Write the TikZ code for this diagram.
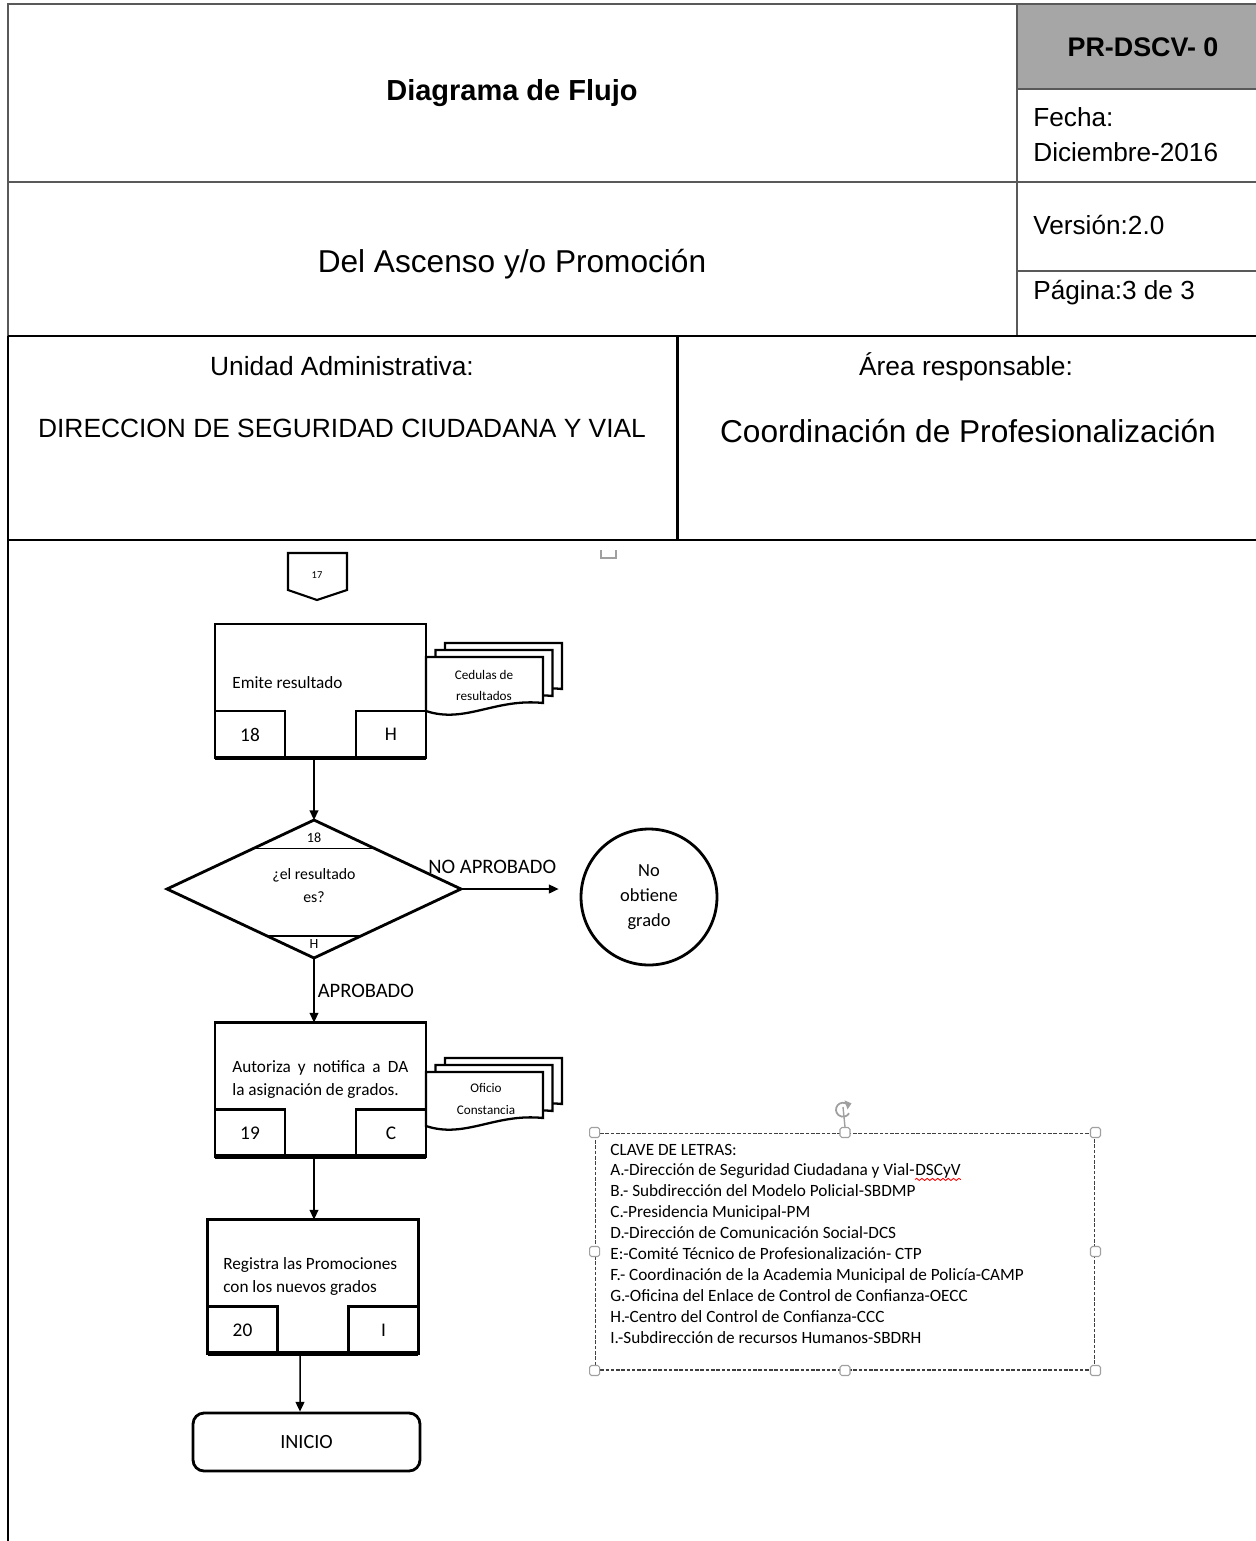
\documentclass[tikz,border=0pt]{standalone}
\usepackage{fontspec}
\setmainfont{Liberation Sans}
\newfontfamily\calfont{Carlito}
\usetikzlibrary{arrows.meta,shapes.geometric,calc,decorations.pathmorphing}
\definecolor{framegray}{HTML}{595959}
\definecolor{cellgray}{HTML}{A6A6A6}
\definecolor{handlegray}{HTML}{A0A0A0}

\begin{document}
\begin{tikzpicture}[x=0.02cm, y=-0.02cm,
            frame line/.style={draw=framegray, line width=1.1pt},
            bold line/.style={draw=black, line width=1.7pt},
            head text/.style={anchor=base, inner sep=0pt, font=\fontsize{15pt}{18pt}\selectfont},
            side text/.style={anchor=base west, inner sep=0pt, font=\fontsize{14.9pt}{18pt}\selectfont},
            proc box/.style={draw, line width=1.6pt, minimum width=4.22cm, minimum height=2.68cm, inner sep=0pt, outer sep=0pt},
            num box/.style={draw, line width=1.6pt, minimum width=1.4cm, minimum height=0.94cm, inner sep=0pt, outer sep=0pt, font=\calfont\fontsize{11pt}{13pt}\selectfont},
            box text/.style={anchor=base west, inner sep=0pt, font=\calfont\fontsize{9.8pt}{12pt}\selectfont},
            doc shape/.style={draw, line width=1.3pt, fill=white},
            doc text/.style={anchor=base, inner sep=0pt, font=\calfont\fontsize{7.5pt}{9pt}\selectfont},
            small text/.style={anchor=base, inner sep=0pt, font=\calfont\fontsize{8pt}{9pt}\selectfont},
            label text/.style={inner sep=0pt, font=\calfont\fontsize{11.7pt}{14pt}\selectfont},
            flow arrow/.style={-{Triangle[length=5.5pt,width=5pt]}, line width=0.85pt},
            handle box/.style={draw=handlegray, fill=white, line width=0.6pt, minimum size=0.2cm, inner sep=0pt, rounded corners=1pt},
            key text/.style={anchor=base west, inner sep=0pt, font=\calfont\fontsize{9.8pt}{12pt}\selectfont},
            ]
            \useasboundingbox (0,0) rectangle (1256,1541);

            \fill[cellgray] (1017,4) rectangle (1256,89);
            \draw[frame line] (1256,4) -- (8,4) -- (8,336);
            \draw[frame line] (8,182) -- (1256,182);
            \draw[frame line] (1017,4) -- (1017,336);
            \draw[frame line] (1017,89) -- (1256,89);
            \draw[frame line] (1017,271) -- (1256,271);
            \draw[bold line] (8,336) -- (1256,336);
            \draw[bold line] (677,336) -- (677,540);
            \draw[bold line] (8,540) -- (1256,540);
            \draw[bold line] (8,336) -- (8,1541);

            \node[head text, font=\bfseries\fontsize{16.5pt}{19pt}\selectfont] (title) at (512,100.5) {Diagrama de Flujo};
            \node[head text, font=\bfseries\fontsize{15.3pt}{18pt}\selectfont] (code) at (1143,56.7) {PR-DSCV- 0};
            \node[side text] (fecha) at (1033,126.4) {Fecha:};
            \node[side text] (fechaval) at (1033,161.4) {Diciembre-2016};
            \node[side text] (version) at (1033,234.4) {Versión:2.0};
            \node[side text] (pagina) at (1033,299.4) {Página:3 de 3};
            \node[head text, font=\fontsize{18pt}{21pt}\selectfont] (proc) at (512,272.4) {Del Ascenso y/o Promoción};
            \node[head text] (unidad) at (342,375.5) {Unidad Administrativa:};
            \node[head text] (unidadval) at (342,437.5) {DIRECCION DE SEGURIDAD CIUDADANA Y VIAL};
            \node[head text] (area) at (966,375.5) {Área responsable:};
            \node[head text, font=\fontsize{18pt}{21pt}\selectfont] (areaval) at (968,442.4) {Coordinación de Profesionalización};

            \draw[handlegray, line width=0.8pt] (601,550) -- (601,558) -- (616,558) -- (616,550);

            \draw[line width=1.2pt] (288,553) -- (347,553) -- (347,590) -- (317,600) -- (288,590) -- cycle;
            \node[small text, font=\calfont\fontsize{6pt}{7pt}\selectfont] (c17) at (317,578.5) {17};

            \node[proc box] (p18) at (320.5,691) {};
            \node[num box, anchor=south west] (n18) at (p18.south west) {18};
            \node[num box, anchor=south east] (r18) at (p18.south east) {H};
            \draw[line width=2.6pt] (p18.south west) -- (p18.south east);
            \node[box text] (t18) at (232,688.6) {Emite resultado};
            \foreach \d in {2,1,0}
                \draw[doc shape, shift={(9.5*\d,-7*\d)}] (426,657) -- (543,657) -- (543,703) .. controls (495,698) and (465,724) .. (426,711) -- cycle;
            \node[doc text] (d18a) at (484,679) {Cedulas de};
            \node[doc text] (d18b) at (484,700) {resultados};

            \node[diamond, draw, line width=1.6pt, minimum width=5.88cm, minimum height=2.76cm, inner sep=0pt, outer sep=0pt] (dec) at (314,889) {};
            \draw[line width=0.9pt] ($(dec.north)!0.41!(dec.west)$) -- ($(dec.north)!0.41!(dec.east)$);
            \draw[line width=0.9pt] ($(dec.south)!0.32!(dec.west)$) -- ($(dec.south)!0.32!(dec.east)$);
            \node[small text] (dn) at (314,842.5) {18};
            \node[small text] (dh) at (314,948.5) {H};
            \node[small text, font=\calfont\fontsize{9pt}{11pt}\selectfont] (dq1) at (314,879) {¿el resultado};
            \node[small text, font=\calfont\fontsize{9pt}{11pt}\selectfont] (dq2) at (314,902) {es?};

            \node[circle, draw, line width=1.6pt, minimum size=2.72cm, inner sep=0pt, align=center, font=\calfont\fontsize{10.5pt}{14.2pt}\selectfont] (nograde) at (649,897) {No\\obtiene\\grado};

            \draw[flow arrow] (p18.south -| dec.north) -- (dec.north);
            \draw[flow arrow] (dec.east) -- node[label text, pos=0.32, anchor=base, yshift=0.31cm] (lno) {NO APROBADO} ($(dec.east -| nograde.west)+(-21,0)$);

            \node[proc box] (p19) at (320.5,1089.5) {};
            \node[num box, anchor=south west] (n19) at (p19.south west) {19};
            \node[num box, anchor=south east] (r19) at (p19.south east) {C};
            \draw[line width=2.6pt] (p19.south west) -- (p19.south east);
            \node[box text] (t19a) at (232,1072.6) {\makebox[3.52cm][s]{Autoriza y notifica a DA}};
            \node[box text] (t19b) at (232,1095.6) {la asignación de grados.};
            \foreach \d in {2,1,0}
                \draw[doc shape, shift={(9.5*\d,-7*\d+415)}] (426,657) -- (543,657) -- (543,703) .. controls (495,698) and (465,724) .. (426,711) -- cycle;
            \node[doc text] (d19a) at (486,1092) {Oficio};
            \node[doc text] (d19b) at (486,1114) {Constancia};

            \draw[flow arrow] (dec.south) -- node[label text, pos=0.61, anchor=base west, xshift=0.06cm] (lyes) {APROBADO} (dec.south |- p19.north);

            \node[proc box] (p20) at (313,1286.5) {};
            \node[num box, anchor=south west] (n20) at (p20.south west) {20};
            \node[num box, anchor=south east] (r20) at (p20.south east) {I};
            \draw[line width=2.6pt] (p20.south west) -- (p20.south east);
            \node[box text] (t20a) at (223,1269.6) {Registra las Promociones};
            \node[box text] (t20b) at (223,1292.6) {con los nuevos grados};

            \draw[flow arrow] (p19.south -| dec.south) -- (dec.south |- p20.north);

            \node[draw, line width=1.6pt, rounded corners=0.22cm, minimum width=4.54cm, minimum height=1.16cm, inner sep=0pt, font=\calfont\fontsize{11.5pt}{13pt}\selectfont] (fin) at (306.5,1442) {INICIO};
            \draw[flow arrow] ([xshift=-0.26cm]p20.south) -- ($(fin.north)+(-6.5,0)$);

            \node[draw=black!75, dashed, dash pattern=on 2pt off 1pt, line width=0.6pt, minimum width=10cm, minimum height=4.74cm, inner sep=0pt] (legend) at (845,1251.5) {};
            \foreach \a in {north west,north,north east,west,east,south west,south,south east}
                \node[handle box] (h-\a) at (legend.\a) {};
            \coordinate (rot) at (843,1099);
            \draw[handlegray, line width=1pt] ($(rot)+(50:7)$) arc[start angle=50, end angle=330, radius=0.14cm];
            \fill[handlegray] ($(rot)+(50:7)+(-3,-4)$) -- ($(rot)+(50:7)+(4,-1)$) -- ($(rot)+(50:7)+(0,5)$) -- cycle;
            \draw[handlegray, line width=0.8pt] ($(rot)+(0,8)$) -- (h-north.north);

            \node[key text] (k0) at (610,1155) {CLAVE DE LETRAS:};
            \node[key text] (k1) at (610,1175.9) {A.-Dirección de Seguridad Ciudadana y Vial-};
            \node[key text, anchor=base west] (dscyv) at (k1.base east) {DSCyV};
            \draw[red, line width=0.5pt, decorate, decoration={snake, amplitude=0.6pt, segment length=3pt}] ([yshift=-2pt]dscyv.base west) -- ([yshift=-2pt]dscyv.base east);
            \node[key text] (k2) at (610,1196.8) {B.- Subdirección del Modelo Policial-SBDMP};
            \node[key text] (k3) at (610,1217.7) {C.-Presidencia Municipal-PM};
            \node[key text] (k4) at (610,1238.6) {D.-Dirección de Comunicación Social-DCS};
            \node[key text] (k5) at (610,1259.5) {E:-Comité Técnico de Profesionalización- CTP};
            \node[key text] (k6) at (610,1280.4) {F.- Coordinación de la Academia Municipal de Policía-CAMP};
            \node[key text] (k7) at (610,1301.3) {G.-Oficina del Enlace de Control de Confianza-OECC};
            \node[key text] (k8) at (610,1322.2) {H.-Centro del Control de Confianza-CCC};
            \node[key text] (k9) at (610,1343.1) {I.-Subdirección de recursos Humanos-SBDRH};
        \end{tikzpicture}
\end{document}
